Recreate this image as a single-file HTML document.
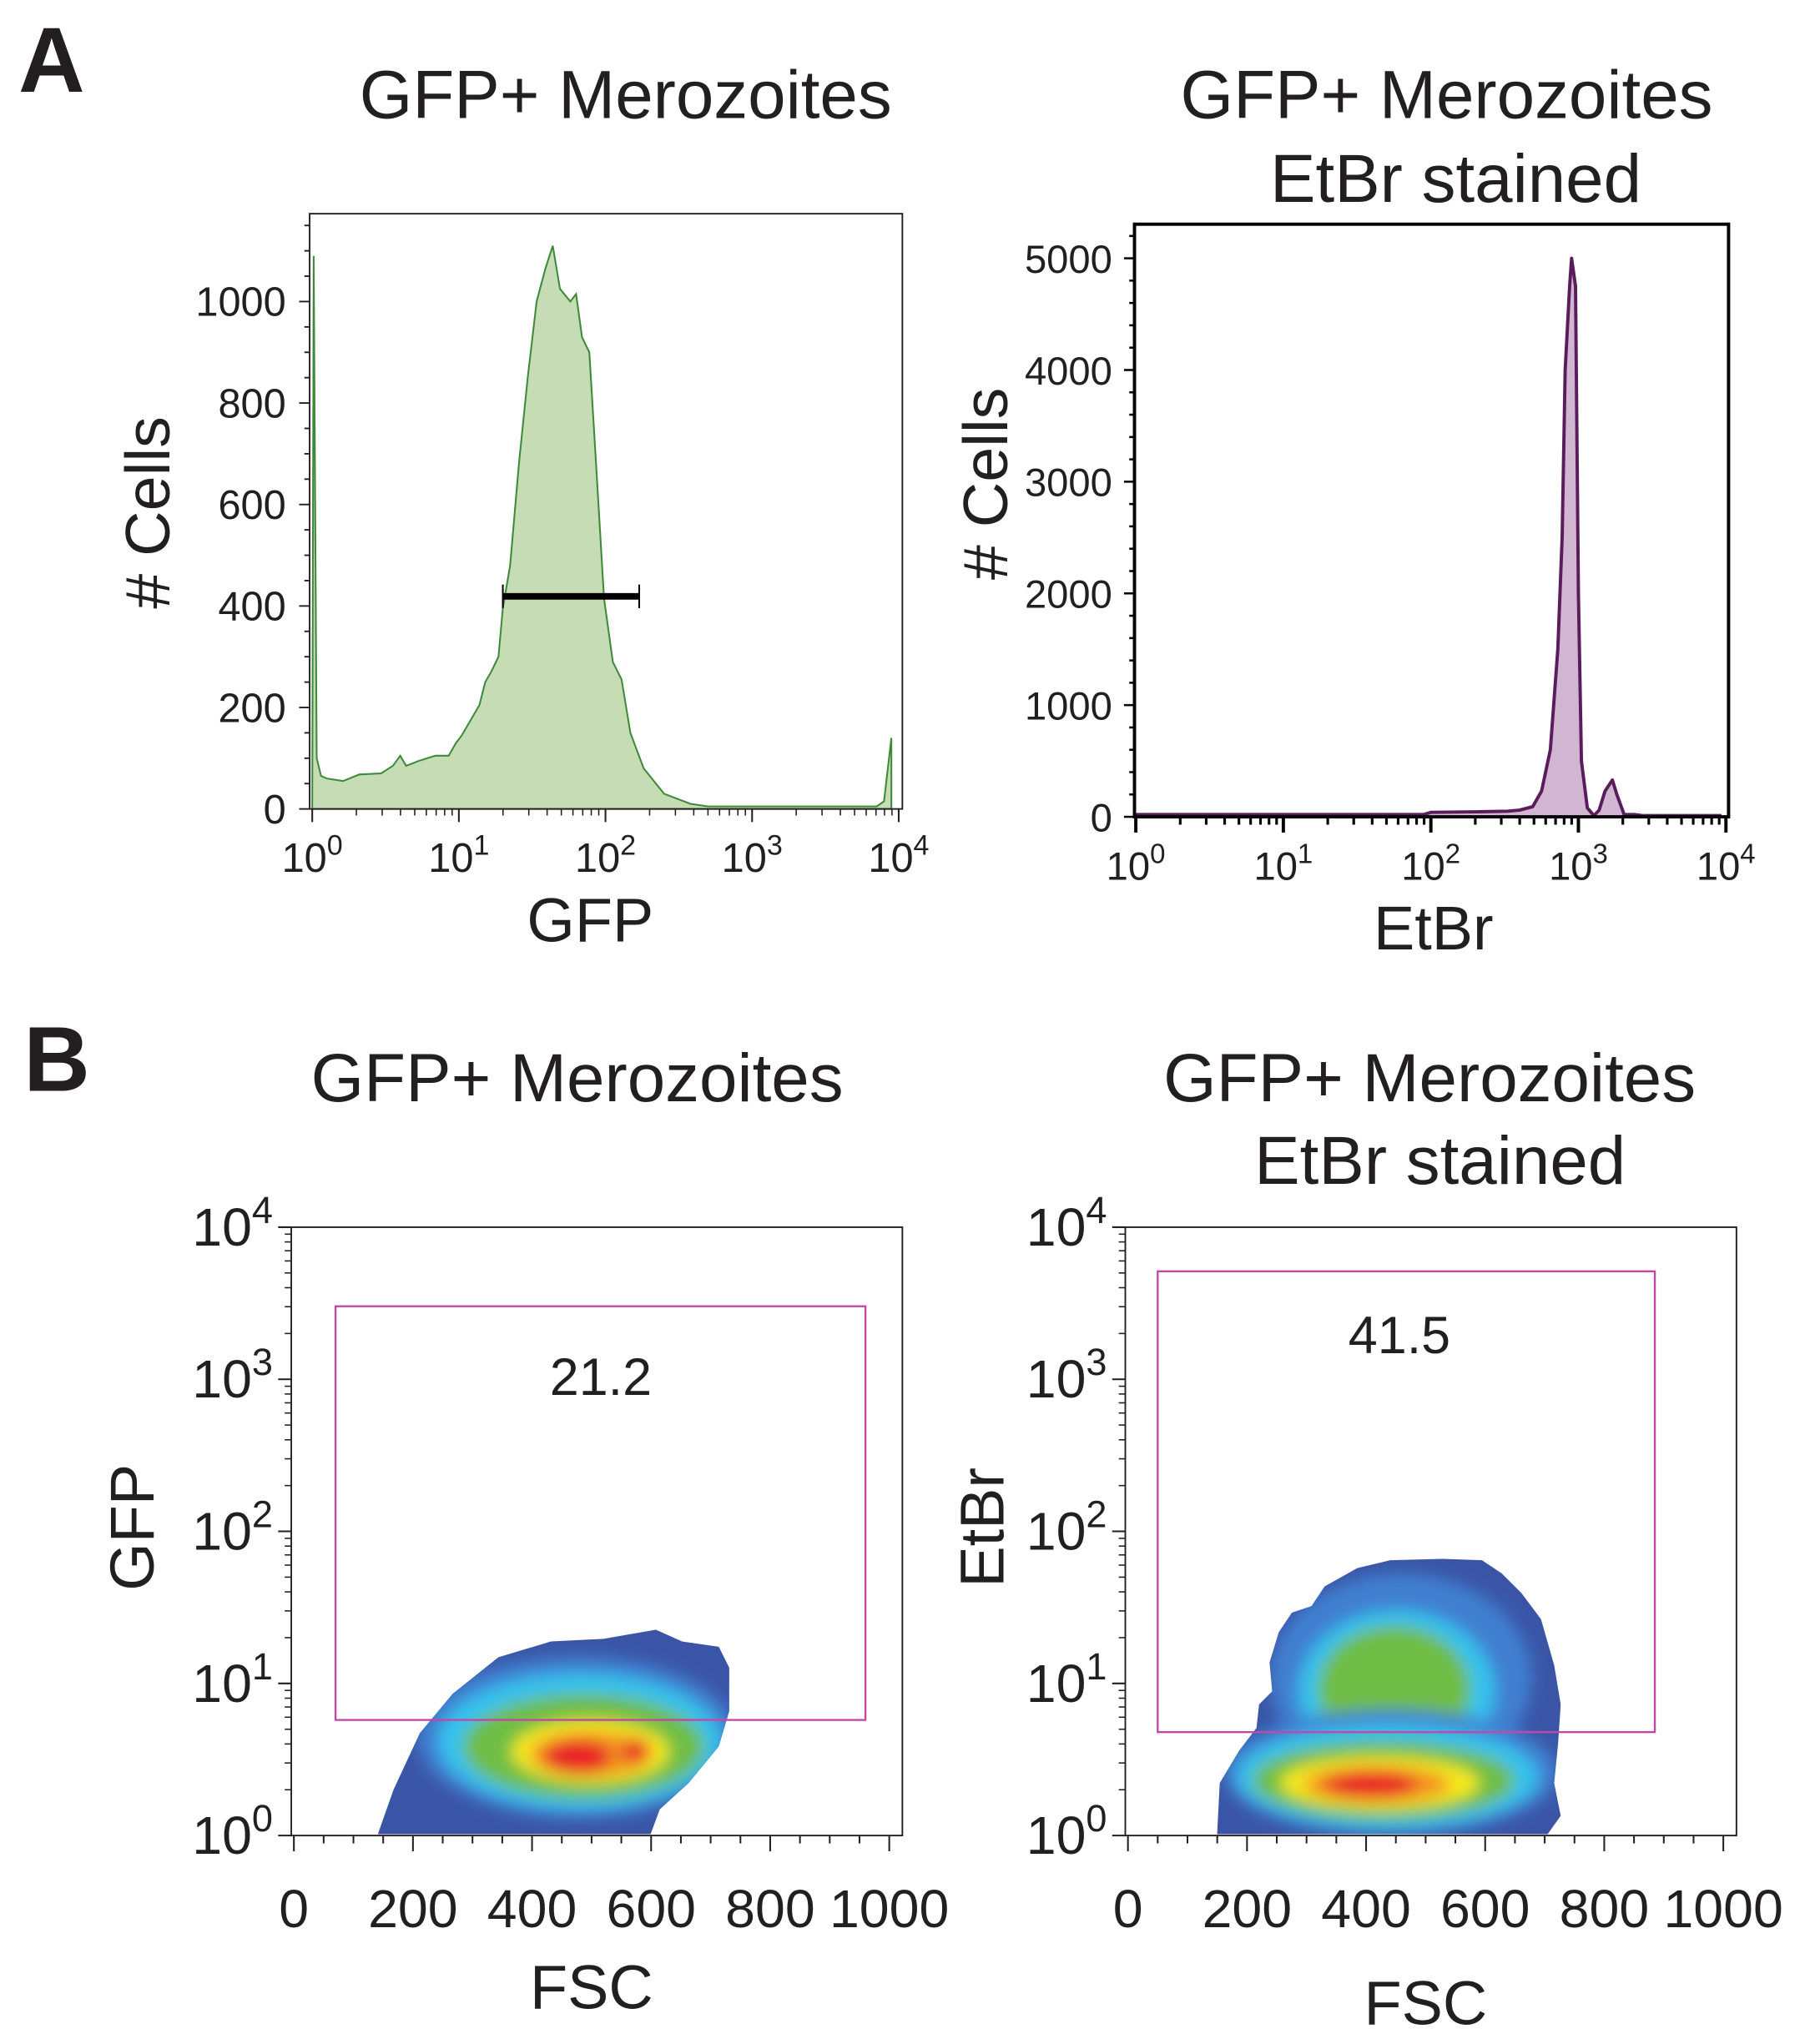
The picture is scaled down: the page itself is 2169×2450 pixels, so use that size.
<!DOCTYPE html>
<html><head><meta charset="utf-8"><style>
html,body{margin:0;padding:0;background:#fff}
svg{display:block}
text{font-family:"Liberation Sans",Arial,sans-serif;fill:#231f20}
</style></head><body>
<svg id="fig" width="2169" height="2450" viewBox="0 0 1380 1559" xmlns="http://www.w3.org/2000/svg">
<defs>
<filter id="blur" x="-20%" y="-20%" width="140%" height="140%"><feGaussianBlur stdDeviation="6"/></filter>
<clipPath id="clipL"><path d="M288,1399 L300,1365 L320,1322 L345,1292 L380,1264 L420,1252 L460,1250 L500,1243 L520,1252 L548,1256 L556,1272 L556,1305 L548,1332 L525,1360 L503,1380 L496,1399 Z"/></clipPath>
<clipPath id="clipR"><path d="M928,1399 L930,1360 L945,1335 L958,1318 L960,1300 L970,1290 L968,1268 L975,1245 L985,1230 L1000,1225 L1010,1210 L1035,1196 L1060,1190 L1100,1189 L1130,1190 L1145,1200 L1160,1215 L1175,1235 L1185,1270 L1190,1300 L1188,1330 L1185,1360 L1190,1385 L1180,1399 Z"/></clipPath>
</defs>
<text x="14" y="70" font-size="70" font-weight="bold">A</text>
<text x="18" y="832" font-size="70" font-weight="bold">B</text>
<g id="gA1"></g>
<g id="gA2"></g>
<g id="gB1"></g>
<g id="gB2"></g>
</svg>
<script>
// Panel A left: GFP histogram (log10 GFP, count)
const gfpLog = [0.0,0.01,0.03,0.06,0.1,0.21,0.32,0.47,0.55,0.6,0.64,0.73,0.84,0.93,0.98,1.02,1.09,1.14,1.18,1.22,1.27,1.3,1.35,1.41,1.47,1.53,1.59,1.64,1.69,1.76,1.8,1.84,1.89,1.94,1.99,2.05,2.11,2.17,2.26,2.4,2.58,2.7,3.5,3.85,3.9,3.95];
const gfpCount = [0,1090,100,65,60,55,68,70,85,105,85,95,105,105,130,145,180,205,250,270,300,395,480,680,850,1000,1065,1110,1025,1000,1015,930,900,660,415,290,255,150,80,30,10,5,5,5,15,140];
const gfpGate = [1.3, 2.23, 419];
const gfpYTicks = [0,200,400,600,800,1000];
// Panel A right: EtBr histogram
const etLog = [0.0,0.5,1.0,1.5,1.95,2.0,2.3,2.52,2.6,2.69,2.75,2.81,2.86,2.89,2.91,2.94,2.954,2.98,3.0,3.02,3.06,3.105,3.14,3.18,3.23,3.26,3.31,3.38,3.44,3.97];
const etCount = [20,20,20,20,20,40,45,50,60,90,230,600,1500,2500,4000,4750,5000,4750,2000,500,80,10,60,230,330,200,20,20,10,10];
const etYTicks = [0,1000,2000,3000,4000,5000];
const decades = [0,1,2,3,4];
// Panel B
const fscTicks = [0,200,400,600,800,1000];
const gateB1 = [70,960,3.48,0.76]; // FSC min, max, log upper, log lower
const gateB2 = [50,885,3.71,0.68];
const pctB1 = "21.2", pctB2 = "41.5";

const NS="http://www.w3.org/2000/svg";
function el(parent,tag,attrs,txt){const e=document.createElementNS(NS,tag);for(const k in attrs)e.setAttribute(k,attrs[k]);if(txt!==undefined)e.textContent=txt;parent.appendChild(e);return e;}
function sup(parent,x,y,base,exp,fs,anchor){
  const t=el(parent,'text',{x:x,y:y,'font-size':fs,'text-anchor':anchor||'middle'});
  const a=document.createElementNS(NS,'tspan');a.textContent=base;t.appendChild(a);
  const b=document.createElementNS(NS,'tspan');b.setAttribute('dy',-fs*0.42);b.setAttribute('font-size',fs*0.7);b.textContent=exp;t.appendChild(b);
  return t;
}

// ---------- A1 ----------
(function(){
  const g=document.getElementById('gA1');
  const L=236,R=688,T=163,B=617;
  const x=v=>238+v*111.8, y=v=>617-v*0.387;
  let d='M'+x(gfpLog[0])+','+y(0);
  gfpLog.forEach((v,i)=>{d+=' L'+x(v).toFixed(1)+','+y(gfpCount[i]).toFixed(1);});
  d+=' L'+x(gfpLog[gfpLog.length-1])+','+y(0)+' Z';
  const area=el(g,'path',{d:d,fill:'#c6dcb4',stroke:'#3f8a3a','stroke-width':1.3});
  
  
  el(g,'rect',{x:L,y:T,width:R-L,height:B-T,fill:'none',stroke:'#231f20','stroke-width':1.2});
  const gate=el(g,'line',{x1:x(gfpGate[0]),x2:x(gfpGate[1]),y1:y(gfpGate[2]),y2:y(gfpGate[2]),stroke:'#000','stroke-width':5});
  
  
  [gfpGate[0],gfpGate[1]].forEach(v=>el(g,'line',{x1:x(v),x2:x(v),y1:y(gfpGate[2])-9,y2:y(gfpGate[2])+9,stroke:'#000','stroke-width':1.3}));
  for(let v=0;v<=1150;v+=50){const yy=y(v);el(g,'line',{x1:L-(v%200==0?8:4),x2:L,y1:yy,y2:yy,stroke:'#231f20','stroke-width':1.2});}
  gfpYTicks.forEach(v=>{const t=el(g,'text',{x:218,y:y(v)+11,'font-size':31,'text-anchor':'end'},v);});
  decades.forEach(dd=>{el(g,'line',{x1:x(dd),x2:x(dd),y1:B,y2:B+10,stroke:'#231f20','stroke-width':1.3});sup(g,x(dd),B+48,'10',dd,31);
    if(dd<4)for(let k=2;k<10;k++){const xx=x(dd+Math.log10(k));el(g,'line',{x1:xx,x2:xx,y1:B,y2:B+5,stroke:'#231f20','stroke-width':1});}});
  el(g,'text',{x:477,y:90,'font-size':52,'text-anchor':'middle'},'GFP+ Merozoites');
  el(g,'text',{x:450,y:718,'font-size':47,'text-anchor':'middle'},'GFP');
  el(g,'text',{x:0,y:0,'font-size':48,'text-anchor':'middle',transform:'translate(129,391) rotate(-90)'},'# Cells');
})();

// ---------- A2 ----------
(function(){
  const g=document.getElementById('gA2');
  const L=865,R=1318,T=171,B=623;
  const x=v=>866+v*112.5, y=v=>623-v*0.0852;
  let d='M'+x(etLog[0])+','+y(0);
  etLog.forEach((v,i)=>{d+=' L'+x(v).toFixed(1)+','+y(etCount[i]).toFixed(1);});
  d+=' L'+x(etLog[etLog.length-1])+','+y(0)+' Z';
  el(g,'path',{d:d,fill:'#d1b6d2',stroke:'none'});
  let dl='M'+x(etLog[0])+','+y(etCount[0]);
  etLog.forEach((v,i)=>{dl+=' L'+x(v).toFixed(1)+','+y(etCount[i]).toFixed(1);});
  const ln=el(g,'path',{d:dl,fill:'none',stroke:'#5a1c5c','stroke-width':2.5,'stroke-linejoin':'round'});
  
  
  el(g,'rect',{x:L,y:T,width:R-L,height:B-T,fill:'none',stroke:'#000','stroke-width':2.5});
  for(let v=0;v<=5200;v+=200){const yy=y(v);el(g,'line',{x1:L-(v%1000==0?8:4),x2:L,y1:yy,y2:yy,stroke:'#000','stroke-width':1.6});}
  etYTicks.forEach(v=>{const t=el(g,'text',{x:848,y:y(v)+11,'font-size':30,'text-anchor':'end'},v);});
  decades.forEach(dd=>{el(g,'line',{x1:x(dd),x2:x(dd),y1:B,y2:B+12,stroke:'#000','stroke-width':2.5});sup(g,x(dd),B+48,'10',dd,30);
    if(dd<4)for(let k=2;k<10;k++){const xx=x(dd+Math.log10(k));el(g,'line',{x1:xx,x2:xx,y1:B,y2:B+6,stroke:'#000','stroke-width':2});}});
  el(g,'text',{x:1103,y:90,'font-size':52,'text-anchor':'middle'},'GFP+ Merozoites');
  el(g,'text',{x:1110,y:154,'font-size':52,'text-anchor':'middle'},'EtBr stained');
  el(g,'text',{x:1093,y:724,'font-size':47,'text-anchor':'middle'},'EtBr');
  el(g,'text',{x:0,y:0,'font-size':48,'text-anchor':'middle',transform:'translate(768,369) rotate(-90)'},'# Cells');
})();

// ---------- B panels ----------
function densityPanel(gid,L,gate,pct,pctX,pctY,clip,layers,titles,ylab,ylabX,fscY){
  const g=document.getElementById(gid);
  const R=L+466,T=936,B=1400;
  const x=v=>L+2+v*0.454, y=v=>B-v*116;
  const bg=el(g,'g',{'clip-path':'url(#'+clip+')'});
  el(bg,'rect',{x:L,y:T,width:466,height:464,fill:'#3a55a6'});
  const bl=el(bg,'g',{filter:'url(#blur)'});
  layers.forEach(s=>el(bl,'ellipse',{cx:s[0],cy:s[1],rx:s[2],ry:s[3],fill:s[4]}));
  el(g,'rect',{x:L,y:T,width:466,height:464,fill:'none',stroke:'#231f20','stroke-width':1.2});
  const gr=el(g,'rect',{x:x(gate[0]),y:y(gate[2]),width:x(gate[1])-x(gate[0]),height:y(gate[3])-y(gate[2]),fill:'none',stroke:'#c646a6','stroke-width':1.5});
  
  
  const pt=el(g,'text',{x:pctX,y:pctY,'font-size':40,'text-anchor':'middle'},pct);
  
  
  for(let dd=0;dd<=4;dd++){el(g,'line',{x1:L-10,x2:L,y1:y(dd),y2:y(dd),stroke:'#231f20','stroke-width':1.3});sup(g,L-14,y(dd)+14,'10',dd,41,'end');
    if(dd<4)for(let k=2;k<10;k++){const yy=y(dd+Math.log10(k));el(g,'line',{x1:L-5,x2:L,y1:yy,y2:yy,stroke:'#231f20','stroke-width':1});}}
  for(let v=0;v<=1000;v+=50){const xx=x(v);el(g,'line',{x1:xx,x2:xx,y1:B,y2:B+(v%200==0?12:6),stroke:'#231f20','stroke-width':1.3});}
  fscTicks.forEach(v=>{const t=el(g,'text',{x:x(v),y:B+70,'font-size':41,'text-anchor':'middle'},v);});
  el(g,'text',{x:L+229,y:fscY,'font-size':47,'text-anchor':'middle'},'FSC');
  titles.forEach(t=>el(g,'text',{x:t[0],y:t[1],'font-size':52,'text-anchor':'middle'},t[2]));
  el(g,'text',{x:0,y:0,'font-size':47,'text-anchor':'middle',transform:'translate('+ylabX+',1165) rotate(-90)'},ylab);
}
densityPanel('gB1',222,gateB1,pctB1,458,1064,'clipL',[
  [440,1325,122,62,'#3f7fd0'],[442,1328,108,52,'#35c2ee'],[445,1332,92,40,'#6fbe44'],[450,1336,60,24,'#f7ea1c'],
  [450,1338,46,17,'#f39320'],[440,1340,26,13,'#e92027'],[485,1335,11,9,'#e92027']],
  [[440,840,'GFP+ Merozoites']],'GFP',117,1532);
densityPanel('gB2',858,gateB2,pctB2,1067,1032,'clipR',[
  [1068,1280,100,80,'#3f7fd0'],[1065,1290,75,62,'#35c2ee'],[1063,1288,58,48,'#6fbe44'],
  [1060,1352,128,48,'#3f7fd0'],[1058,1355,115,40,'#35c2ee'],[1055,1358,100,30,'#6fbe44'],[1052,1360,76,20,'#f7ea1c'],
  [1050,1361,56,14,'#f39320'],[1045,1361,36,10,'#e92027']],
  [[1090,840,'GFP+ Merozoites'],[1098,903,'EtBr stained']],'EtBr',765,1544);
</script>
</body></html>
